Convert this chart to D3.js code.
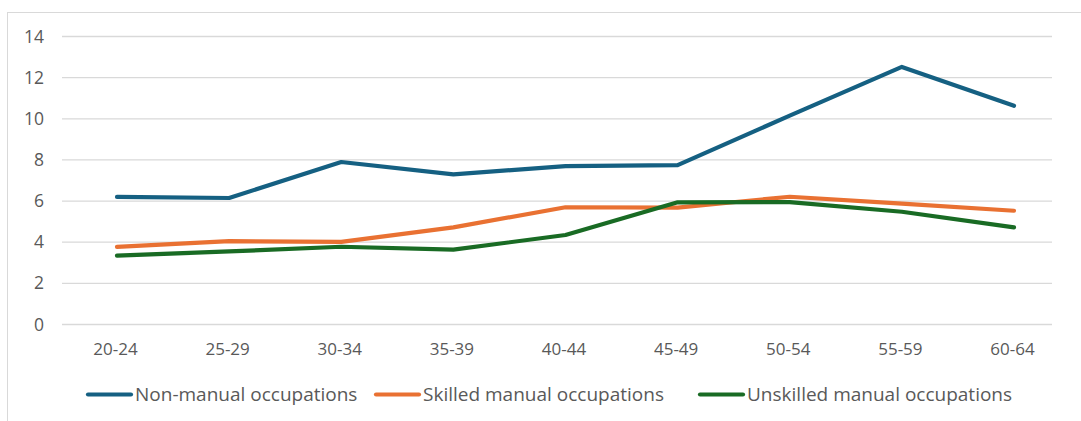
<!DOCTYPE html>
<html><head><meta charset="utf-8">
<script src="https://cdn.jsdelivr.net/npm/d3@7"></script>
<style>body{margin:0;background:#fff}svg{display:block}</style>
</head><body>
<svg id="c" width="1081" height="421"></svg>
<script>
const categories = ["20-24","25-29","30-34","35-39","40-44","45-49","50-54","55-59","60-64"];
const seriesNames = ["Non-manual occupations","Skilled manual occupations","Unskilled manual occupations"];
const nonManual = [6.2,6.15,7.9,7.3,7.7,7.75,10.15,12.52,10.63];
const skilledManual = [3.77,4.05,4.02,4.72,5.7,5.68,6.21,5.88,5.53];
const unskilledManual = [3.35,3.55,3.78,3.64,4.35,5.94,5.95,5.48,4.72];
const yTicks = [0,2,4,6,8,10,12,14];
const colors = ["#156082","#E97132","#196B24"];

const svg = d3.select("#c");
const font = "'Open Sans', sans-serif";
svg.append("rect").attr("x",7.5).attr("y",12.5).attr("width",1090).attr("height",420)
  .attr("fill","#fff").attr("stroke","#d9d9d9");

const y = d3.scaleLinear().domain([0,14]).range([324.5,36.5]);
const x = d3.scalePoint().domain(categories).range([117,1014]);

const grid = svg.append("g");
grid.selectAll("line").data(yTicks).join("line")
  .attr("x1",62).attr("x2",1052).attr("y1",d=>y(d)).attr("y2",d=>y(d))
  .attr("stroke","#d9d9d9").attr("stroke-width",1.3);

const yAxis = svg.append("g").attr("transform","translate(50,0)")
  .call(d3.axisLeft(y).tickValues(yTicks).tickSize(0).tickPadding(6));
yAxis.select(".domain").remove();
yAxis.selectAll("text").attr("font-family",font).attr("font-size",17.5).attr("fill","#595959");

const xAxis = svg.append("g").attr("transform","translate(-2,341)")
  .call(d3.axisBottom(x).tickSize(0).tickPadding(2));
xAxis.select(".domain").remove();
xAxis.selectAll("text").attr("font-family",font).attr("font-size",17).attr("fill","#595959");

const data = [nonManual, skilledManual, unskilledManual];
const line = d3.line().x((d,i)=>x(categories[i])).y(d=>y(d));
[1,2,0].forEach(k=>{
  svg.append("path").datum(data[k]).attr("d",line).attr("fill","none")
    .attr("stroke",colors[k]).attr("stroke-width",4.2)
    .attr("stroke-linecap","round").attr("stroke-linejoin","round");
});

const legendX = [88,376,700];
const leg = svg.append("g");
seriesNames.forEach((n,i)=>{
  const g = leg.append("g").attr("transform",`translate(${legendX[i]},394.5)`);
  g.append("line").attr("x1",0).attr("x2",43).attr("stroke",colors[i])
    .attr("stroke-width",4.2).attr("stroke-linecap","round");
  g.append("text").attr("x",47).attr("dy","0.35em").attr("font-family",font)
    .attr("font-size",19).attr("fill","#595959").text(n);
});
</script>
</body></html>
